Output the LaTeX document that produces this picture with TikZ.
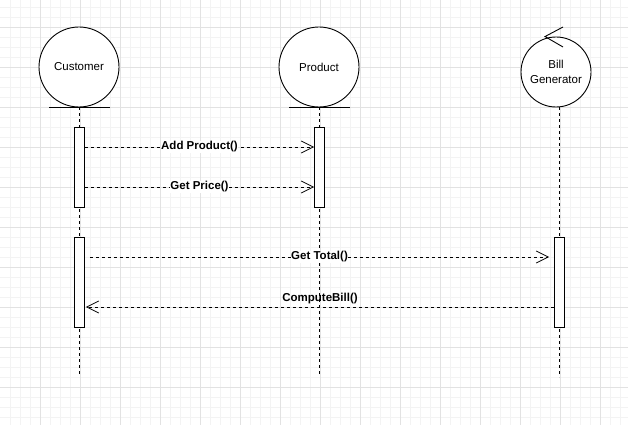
\documentclass[tikz,border=0pt]{standalone}
\usepackage{fontspec}
\setmainfont{Liberation Sans}
\usetikzlibrary{arrows.meta}
\definecolor{gridminor}{HTML}{F3F3F3}
\definecolor{gridmajor}{HTML}{E2E2E2}
\begin{document}
\begin{tikzpicture}[x=1pt,y=-1pt,
  actor/.style={circle,draw,line width=0.9pt,minimum size=80pt,inner sep=0pt,
    font=\fontsize{11.5}{14}\selectfont,fill=white},
  ctrl/.style={circle,draw,line width=0.9pt,minimum size=70pt,inner sep=0pt,
    font=\fontsize{11.5}{15}\selectfont,align=center,fill=white},
  life/.style={dash pattern=on 3pt off 3pt,line width=0.9pt},
  act/.style={rectangle,draw,fill=white,line width=0.9pt,minimum width=10pt,inner sep=0pt},
  msg/.style={dash pattern=on 3pt off 3pt,line width=0.8pt,
    -{Straight Barb[length=12pt,width=12pt,line width=0.8pt]}},
  lbl/.style={fill=white,inner sep=0.5pt,font=\bfseries\fontsize{11.5}{14}\selectfont}]
\useasboundingbox (0,0) rectangle (628,425);
\fill[white] (0,0) rectangle (628,425);
\foreach \x in {10,20,...,620} \draw[gridminor,line width=0.6pt] (\x,0) -- (\x,425);
\foreach \y in {7,17,...,417} \draw[gridminor,line width=0.6pt] (0,\y) -- (628,\y);
\foreach \x in {40,80,...,600} \draw[gridmajor,line width=0.7pt] (\x,0) -- (\x,425);
\foreach \y in {27,67,...,387} \draw[gridmajor,line width=0.7pt] (0,\y) -- (628,\y);

% lifeline ends
\coordinate (custend) at (79,377);
\coordinate (prodend) at (319,377);
\coordinate (billend) at (559,377);

% participants
\node[actor] (cust) at (79,67) {Customer};
\node[actor] (prod) at (319,67) {Product};
\node[ctrl] (bill) at (556,72) {Bill\\Generator};

% entity underlines
\draw[line width=0.9pt] ([xshift=-30pt]cust.south) -- ([xshift=31pt]cust.south);
\draw[line width=0.9pt] ([xshift=-30pt]prod.south) -- ([xshift=31pt]prod.south);
% control chevron
\coordinate (chtop) at (563,27);
\coordinate (chbot) at (563,47);
\draw[line width=0.9pt] (chtop) -- (bill.north -| 545,0) -- (chbot);

% lifelines
\draw[life] (cust.south) -- (custend);
\draw[life] (prod.south) -- (prodend);
\draw[life] (559,107) coordinate (billstart) -- (billend);

% activations
\node[act,minimum height=80pt] (ca1) at (79.5,167) {};
\node[act,minimum height=80pt] (pa1) at (319.5,167) {};
\node[act,minimum height=90pt] (ca2) at (79.5,282) {};
\node[act,minimum height=90pt] (ba1) at (559.5,282) {};

% messages
\draw[msg] ([yshift=20pt]ca1.east) -- node[lbl] {Add Product()} ([yshift=20pt]pa1.west);
\draw[msg] ([yshift=-20pt]ca1.east) -- node[lbl] {Get Price()} ([yshift=-20pt]pa1.west);
\draw[msg] ([yshift=25pt,xshift=5pt]ca2.east) -- node[lbl] {Get Total()} ([yshift=25pt,xshift=-5pt]ba1.west);
\draw[msg] ([yshift=-25pt]ba1.west) -- node[lbl,fill=none,above=2pt] {ComputeBill()} ([yshift=-25pt,xshift=1pt]ca2.east);
\end{tikzpicture}
\end{document}
